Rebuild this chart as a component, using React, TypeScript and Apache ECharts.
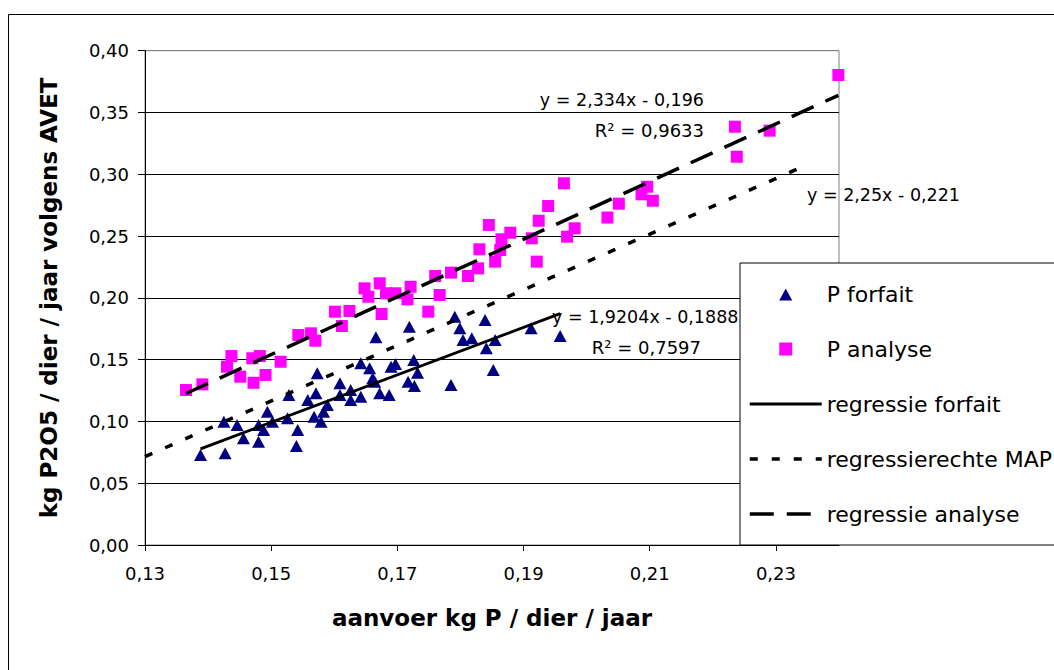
import React, { useEffect, useRef } from 'react';
import * as echarts from 'echarts';

const xTickValues = [0.13, 0.15, 0.17, 0.19, 0.21, 0.23];

const forfaitX = [0.1388, 0.1427, 0.1425, 0.1446, 0.1456, 0.1480, 0.1480, 0.1488, 0.1494, 0.1502, 0.1526, 0.1528, 0.1542, 0.1540, 0.1558, 0.1571, 0.1568, 0.1579, 0.1583, 0.1589, 0.1609, 0.1609, 0.1626, 0.1642, 0.1626, 0.1672, 0.1664, 0.1687, 0.1666, 0.1642, 0.1656, 0.1661, 0.1573, 0.1690, 0.1719, 0.1791, 0.1839, 0.1799, 0.1804, 0.1818, 0.1855, 0.1841, 0.1912, 0.1958, 0.1852, 0.1785, 0.1697, 0.1726, 0.1732, 0.1717, 0.1727];
const forfaitY = [0.0728, 0.0742, 0.0998, 0.0971, 0.0863, 0.0836, 0.0971, 0.0931, 0.1079, 0.0998, 0.1025, 0.1214, 0.0931, 0.0801, 0.1173, 0.1228, 0.1038, 0.0998, 0.1079, 0.1133, 0.1309, 0.1214, 0.1173, 0.1200, 0.1254, 0.1228, 0.1321, 0.1214, 0.1681, 0.1470, 0.1430, 0.1349, 0.1389, 0.1443, 0.1767, 0.1847, 0.1821, 0.1754, 0.1659, 0.1673, 0.1659, 0.1592, 0.1754, 0.1691, 0.1416, 0.1295, 0.1465, 0.1497, 0.1394, 0.1321, 0.1287];

const analyseX = [0.1365, 0.1391, 0.1430, 0.1437, 0.1451, 0.1470, 0.1472, 0.1482, 0.1491, 0.1515, 0.1543, 0.1563, 0.1570, 0.1601, 0.1624, 0.1612, 0.1648, 0.1672, 0.1654, 0.1675, 0.1682, 0.1697, 0.1716, 0.1721, 0.1749, 0.1760, 0.1767, 0.1785, 0.1812, 0.1828, 0.1830, 0.1845, 0.1855, 0.1863, 0.1865, 0.1879, 0.1913, 0.1921, 0.1924, 0.1939, 0.1964, 0.1969, 0.1981, 0.2033, 0.2051, 0.2087, 0.2096, 0.2105, 0.2235, 0.2238, 0.2290, 0.2399];
const analyseY = [0.1254, 0.1300, 0.1443, 0.1529, 0.1362, 0.1511, 0.1313, 0.1529, 0.1376, 0.1483, 0.1699, 0.1713, 0.1653, 0.1888, 0.1894, 0.1772, 0.2077, 0.2118, 0.2009, 0.1869, 0.2037, 0.2037, 0.1988, 0.2090, 0.1888, 0.2177, 0.2023, 0.2204, 0.2177, 0.2239, 0.2393, 0.2590, 0.2293, 0.2387, 0.2474, 0.2527, 0.2482, 0.2293, 0.2624, 0.2743, 0.2927, 0.2495, 0.2563, 0.2650, 0.2762, 0.2838, 0.2899, 0.2786, 0.3385, 0.3142, 0.3353, 0.3803];

const regForfaitX = [0.1388, 0.1958];
const regForfaitY = [0.0778, 0.1872];
const regMapX = [0.13, 0.2338];
const regMapY = [0.0715, 0.3051];
const regAnalyseX = [0.1365, 0.2399];
const regAnalyseY = [0.1226, 0.3639];

const seriesNames = ['P forfait', 'P analyse', 'regressie forfait', 'regressierechte MAP', 'regressie analyse'];

const pairs = (xs: number[], ys: number[]) => xs.map((x, i) => [x, ys[i]]);
const fmt = (v: number) => v.toFixed(2).replace('.', ',');
const FONT = 'DejaVu Sans';

const MAP_DASH = [8, 14];
const ANALYSE_DASH = [24, 13];

// legend icons padded to the full 72x13 legend item box so they are not stretched
const LEGEND_TRIANGLE = 'path://M0,0 M72,13 M29.5,13 L36,1 L42.5,13 Z';
const LEGEND_SQUARE = 'path://M0,0 M72,13 M29.5,0 L42.5,0 L42.5,13 L29.5,13 Z';

export default function App() {
  const ref = useRef<HTMLDivElement>(null);
  useEffect(() => {
    if (!ref.current) return;
    const chart = echarts.init(ref.current, null, { renderer: 'svg' });
    const lineBase = { type: 'line', symbol: 'none', silent: true, z: 5, itemStyle: { color: 'transparent', borderWidth: 0, borderColor: 'transparent' } } as any;
    chart.setOption({
      animation: false,
      backgroundColor: '#fff',
      grid: {
        left: 145, top: 50.7, right: 215, bottom: 125,
        show: true, borderColor: '#808080', borderWidth: 1, backgroundColor: 'transparent',
      },
      xAxis: {
        type: 'value', min: 0.13, max: 0.24, interval: 0.01,
        name: 'aanvoer kg P / dier / jaar', nameLocation: 'middle', nameGap: 61,
        nameTextStyle: { fontFamily: FONT, fontWeight: 'bold', fontSize: 23, color: '#000' },
        axisLine: { show: true, lineStyle: { color: '#000', width: 1 } },
        axisTick: { show: true, length: 6, customValues: xTickValues, lineStyle: { color: '#000' } },
        axisLabel: { customValues: xTickValues, formatter: (v: number) => fmt(v), margin: 19, fontFamily: FONT, fontSize: 18, color: '#000' },
        splitLine: { show: false },
      },
      yAxis: {
        type: 'value', min: 0, max: 0.4, interval: 0.05,
        name: 'kg P2O5 / dier / jaar volgens AVET', nameLocation: 'middle', nameGap: 85,
        nameTextStyle: { fontFamily: FONT, fontWeight: 'bold', fontSize: 23, color: '#000' },
        axisLine: { show: true, lineStyle: { color: '#000', width: 1 } },
        axisTick: { show: true, length: 7, lineStyle: { color: '#000' } },
        axisLabel: { formatter: (v: number) => fmt(v), margin: 16, fontFamily: FONT, fontSize: 18, color: '#000' },
        splitLine: { show: true, lineStyle: { color: ['#000', '#000', '#000', '#000', '#000', '#000', '#000', '#000', '#808080'], width: 1 } },
      },
      legend: {
        orient: 'vertical', left: 740, top: 263,
        padding: [20, 80, 20, 8], itemWidth: 72, itemHeight: 13, itemGap: 33,
        backgroundColor: '#fff', borderColor: '#000', borderWidth: 1, borderRadius: 0,
        textStyle: { fontFamily: FONT, fontSize: 22, color: '#000', lineHeight: 22 },
        data: [
          { name: seriesNames[0], icon: LEGEND_TRIANGLE, itemStyle: { color: '#000080', opacity: 1 } },
          { name: seriesNames[1], icon: LEGEND_SQUARE, itemStyle: { color: '#FF00FF', opacity: 1 } },
          { name: seriesNames[2], lineStyle: { width: 3, color: '#000', type: 'solid' } },
          { name: seriesNames[3], lineStyle: { width: 3.5, color: '#000', type: MAP_DASH } },
          { name: seriesNames[4], lineStyle: { width: 3.5, color: '#000', type: ANALYSE_DASH } },
        ],
        z: 10, selectedMode: false,
      },
      graphic: [
        { type: 'rect', z: -1, silent: true, shape: { x: 8.5, y: 14.5, width: 1200, height: 800 }, style: { fill: 'none', stroke: '#000', lineWidth: 1 } },
        { type: 'text', z: 3, x: 704, y: 100, style: { text: 'y = 2,334x - 0,196', fontFamily: FONT, fontSize: 17.5, fill: '#000', align: 'right', verticalAlign: 'middle' } },
        { type: 'text', z: 3, x: 704, y: 130, style: { text: 'R² = 0,9633', fontFamily: FONT, fontSize: 18, fill: '#000', align: 'right', verticalAlign: 'middle' } },
        { type: 'text', z: 3, x: 807, y: 195, style: { text: 'y = 2,25x - 0,221', fontFamily: FONT, fontSize: 17.5, fill: '#000', align: 'left', verticalAlign: 'middle' } },
        { type: 'text', z: 3, x: 552, y: 317, style: { text: 'y = 1,9204x - 0,1888', fontFamily: FONT, fontSize: 17.5, fill: '#000', align: 'left', verticalAlign: 'middle' } },
        { type: 'text', z: 3, x: 701, y: 347, style: { text: 'R² = 0,7597', fontFamily: FONT, fontSize: 18, fill: '#000', align: 'right', verticalAlign: 'middle' } },
      ],
      series: [
        { name: seriesNames[0], type: 'scatter', symbol: 'triangle', symbolSize: [13, 12], itemStyle: { color: '#000080', opacity: 1 }, data: pairs(forfaitX, forfaitY), z: 3 },
        { name: seriesNames[1], type: 'scatter', symbol: 'rect', symbolSize: 12, itemStyle: { color: '#FF00FF', opacity: 1 }, data: pairs(analyseX, analyseY), z: 3 },
        { ...lineBase, name: seriesNames[2], lineStyle: { color: '#000', width: 3, type: 'solid' }, data: pairs(regForfaitX, regForfaitY) },
        { ...lineBase, name: seriesNames[3], lineStyle: { color: '#000', width: 3.5, type: MAP_DASH }, data: pairs(regMapX, regMapY) },
        { ...lineBase, name: seriesNames[4], lineStyle: { color: '#000', width: 3.5, type: ANALYSE_DASH }, data: pairs(regAnalyseX, regAnalyseY) },
      ],
    });
    return () => chart.dispose();
  }, []);
  return <div ref={ref} style={{ position: 'absolute', left: 0, top: 0, width: 1054, height: 670 }} />;
}
